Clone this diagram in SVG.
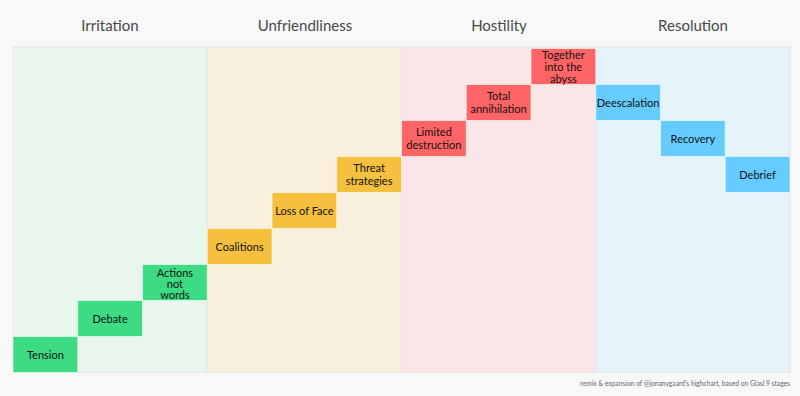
<svg xmlns="http://www.w3.org/2000/svg" width="800" height="396" viewBox="0 0 800 396">
<style>
.h{font-family:Lato,"Open Sans",sans-serif;font-size:15px;font-weight:400;fill:#484848;text-anchor:middle}
.t{font-family:Lato,"Open Sans",sans-serif;font-size:11px;fill:#111;text-anchor:middle}
.pan{stroke:#e6e6e6;stroke-width:1}
.b{stroke:#ffffff;stroke-opacity:0.6;stroke-width:1}
.g{fill:#3ddc84}.y{fill:#f5c03e}.r{fill:#ff6566}.bl{fill:#66ccff}
</style>
<rect width="800" height="396" fill="#f8f8f8"/>
<g id="panels">
<rect class="pan" x="13" y="47" width="194.25" height="325.5" fill="#e8f6ed"/>
<rect class="pan" x="207.25" y="47" width="194.25" height="325.5" fill="#f8efdd"/>
<rect class="pan" x="401.5" y="47" width="194.25" height="325.5" fill="#fae6e6"/>
<rect class="pan" x="595.75" y="47" width="194.25" height="325.5" fill="#e6f3fa"/>
</g>
<g id="headers">
<text class="h" x="110" y="31">Irritation</text>
<text class="h" x="305" y="31">Unfriendliness</text>
<text class="h" x="499" y="31">Hostility</text>
<text class="h" x="693" y="31">Resolution</text>
</g>
<g id="tension"><rect class="b g" x="13" y="336.5" width="64.75" height="36"/><text class="t" x="45.4" y="358.5">Tension</text></g>
<g id="debate"><rect class="b g" x="77.75" y="300.5" width="64.75" height="36"/><text class="t" x="110.1" y="322.5">Debate</text></g>
<g id="actions"><rect class="b g" x="142.5" y="264.5" width="64.75" height="36"/><text class="t" x="174.9" y="277.3">Actions</text><text class="t" x="174.9" y="288">not</text><text class="t" x="174.9" y="298.7">words</text></g>
<g id="coalitions"><rect class="b y" x="207.25" y="228.5" width="64.75" height="36"/><text class="t" x="239.6" y="250.5">Coalitions</text></g>
<g id="lossofface"><rect class="b y" x="272" y="192.5" width="64.75" height="36"/><text class="t" x="304.4" y="214.5">Loss of Face</text></g>
<g id="threat"><rect class="b y" x="336.75" y="156.5" width="64.75" height="36"/><text class="t" x="369.1" y="172">Threat</text><text class="t" x="369.1" y="185">strategies</text></g>
<g id="limited"><rect class="b r" x="401.5" y="120.5" width="64.75" height="36"/><text class="t" x="433.9" y="136">Limited</text><text class="t" x="433.9" y="149">destruction</text></g>
<g id="total"><rect class="b r" x="466.25" y="84.5" width="64.75" height="36"/><text class="t" x="498.6" y="100">Total</text><text class="t" x="498.6" y="113">annihilation</text></g>
<g id="together"><rect class="b r" x="531" y="48.5" width="64.75" height="36"/><text class="t" x="563.4" y="59">Together</text><text class="t" x="563.4" y="71">into the</text><text class="t" x="563.4" y="83">abyss</text></g>
<g id="deescalation"><rect class="b bl" x="595.75" y="84.5" width="64.75" height="36"/><text class="t" x="628.1" y="106.5">Deescalation</text></g>
<g id="recovery"><rect class="b bl" x="660.5" y="120.5" width="64.75" height="36"/><text class="t" x="692.9" y="142.5">Recovery</text></g>
<g id="debrief"><rect class="b bl" x="725.25" y="156.5" width="64.75" height="36"/><text class="t" x="757.6" y="178.5">Debrief</text></g>
<g id="connectors"></g>
<text x="790" y="386" font-family="Lato,'Open Sans',sans-serif" font-size="6.7" fill="#666" text-anchor="end">remix &amp; expansion of @jonanygaard's highchart, based on Glasl 9 stages</text>
</svg>
